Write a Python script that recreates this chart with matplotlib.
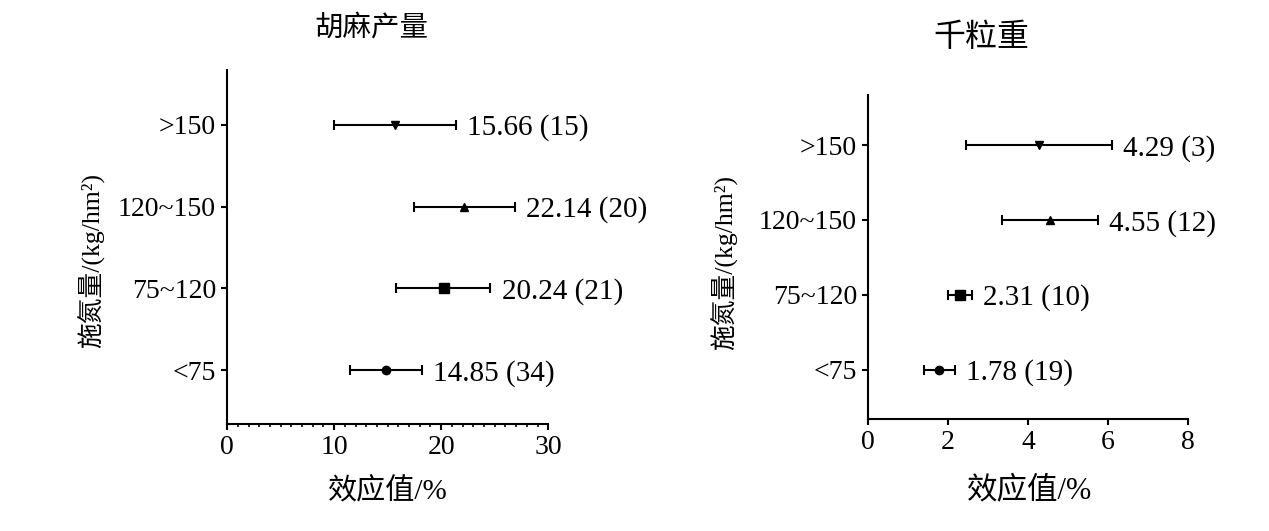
import matplotlib
matplotlib.use('Agg')
import matplotlib.pyplot as plt
from matplotlib.ticker import MultipleLocator

plt.rcParams['font.family'] = ['Liberation Serif', 'Noto Sans CJK SC']

groups = ['<75', '75~120', '120~150', '>150']
markers = ['o', 's', '^', 'v']

# 胡麻产量
yield_mean = [14.85, 20.24, 22.14, 15.66]
yield_low = [11.5, 15.8, 17.45, 9.97]
yield_high = [18.2, 24.6, 26.86, 21.35]
yield_n = [34, 21, 20, 15]

# 千粒重
tkw_mean = [1.78, 2.31, 4.55, 4.29]
tkw_low = [1.40, 2.01, 3.34, 2.46]
tkw_high = [2.18, 2.59, 5.76, 6.10]
tkw_n = [19, 10, 12, 3]

W, H = 1269, 531
fig = plt.figure(figsize=(W / 100, H / 100), dpi=100)
ax1 = fig.add_axes([0.179, 0.2015, 0.253, 0.6665])
ax2 = fig.add_axes([0.684, 0.211, 0.252, 0.61])


def forest(ax, mean, low, high, n, xmax, major, minor):
    ypos = list(range(1, len(groups) + 1))
    for y, m, lo, hi, mk, k in zip(ypos, mean, low, high, markers, n):
        ax.errorbar([m], [y], xerr=[[m - lo], [hi - m]], fmt=mk, color='black',
                    ms=6 if mk != 's' else 7, elinewidth=1.5, capsize=3.5, capthick=1.5)
        ax.annotate('%.2f (%d)' % (m, k), xy=(hi, y), xytext=(8, 0),
                    textcoords='offset points', va='center_baseline', ha='left', fontsize=21)
    ax.set_ylim(0.34, 4.67)
    ax.set_xlim(0, xmax)
    ax.set_yticks(ypos)
    ax.set_yticklabels(groups)
    ax.xaxis.set_major_locator(MultipleLocator(major))
    if minor:
        ax.xaxis.set_minor_locator(MultipleLocator(minor))
        ax.tick_params(axis='x', which='minor', length=2.5, width=1.2)
    ax.tick_params(axis='both', which='major', labelsize=20, length=4.5, width=1.5)
    for s in ['top', 'right']:
        ax.spines[s].set_visible(False)
    for s in ['left', 'bottom']:
        ax.spines[s].set_linewidth(1.5)


forest(ax1, yield_mean, yield_low, yield_high, yield_n, 30, 10, 1)
forest(ax2, tkw_mean, tkw_low, tkw_high, tkw_n, 8, 2, None)

# titles and axis labels placed in pixel positions of the reference
fig.text(371 / W, 1 - 28 / H, '胡麻产量', fontsize=20.5, fontweight='medium', ha='center', va='center')
fig.text(981 / W, 1 - 38 / H, '千粒重', fontsize=23, fontweight='medium', ha='center', va='center')
fig.text(388 / W, 1 - 491 / H, '效应值/%', fontsize=21, ha='center', va='center')
fig.text(1030 / W, 1 - 491 / H, '效应值/%', fontsize=22, ha='center', va='center')
fig.text(91 / W, 1 - 260 / H, '施氮量/(kg/hm²)', fontsize=18.5, rotation=90, ha='center', va='center')
fig.text(724 / W, 1 - 262 / H, '施氮量/(kg/hm²)', fontsize=18.5, rotation=90, ha='center', va='center')

fig.savefig('out.png', dpi=100)
